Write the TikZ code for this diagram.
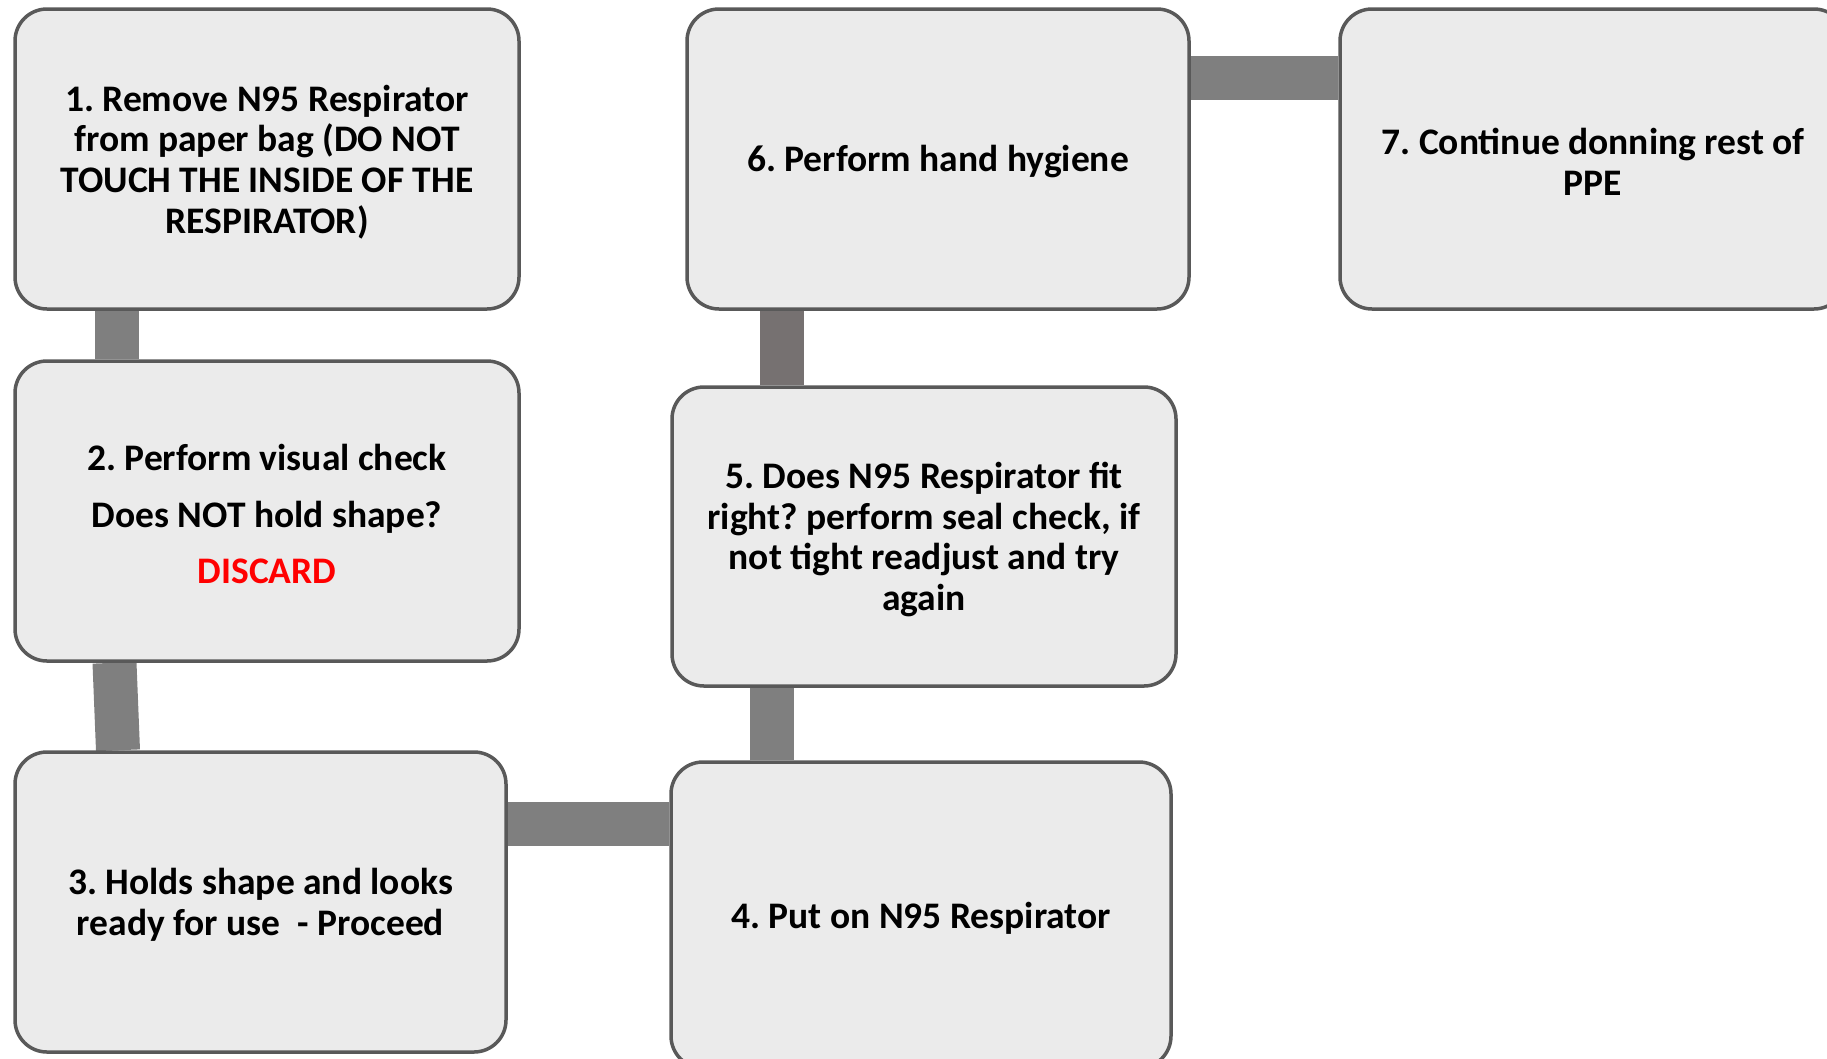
\documentclass[tikz,border=0pt]{standalone}
\usepackage{fontspec}
\setmainfont{Carlito}
\usetikzlibrary{backgrounds}
\definecolor{boxfill}{HTML}{EBEBEB}
\definecolor{boxline}{HTML}{595959}
\definecolor{connc}{HTML}{7F7F7F}
\definecolor{connd}{HTML}{767171}
\definecolor{discard}{HTML}{FF0000}
\begin{document}
\frenchspacing
\begin{tikzpicture}[x=1pt,y=-1pt,
  stepbox/.style={draw=boxline, line width=3.5pt, fill=boxfill, rounded corners=32pt,
    minimum height=300pt, inner sep=0pt},
  boxtext/.style={align=center, inner sep=0pt, yshift=-3pt,
    font=\bfseries\fontsize{37.5}{40.8}\selectfont},
  conn/.style={draw=connc, line width=44pt},
  conndark/.style={draw=connd, line width=44pt}]
\useasboundingbox (0,0) rectangle (1827,1058);
\clip (0,0) rectangle (1827,1058);
\node[stepbox, minimum width=504pt,
  label={[boxtext]center:{1. Remove N95 Respirator\\from paper bag (DO NOT\\TOUCH THE INSIDE OF THE\\RESPIRATOR)}}]
  (b1) at (267,159) {};
\node[stepbox, minimum width=504pt,
  label={[boxtext]center:{2. Perform visual check\\[15.5pt]Does NOT hold shape?\\[15.5pt]\textcolor{discard}{DISCARD}}}]
  (b2) at (267,511) {};
\node[stepbox, minimum width=491pt,
  label={[boxtext]center:{3. Holds shape and looks\\ready for use\ \ - Proceed}}]
  (b3) at (260.5,902) {};
\node[stepbox, minimum width=500pt, minimum height=306pt,
  label={[boxtext]center:{4. Put on N95 Respirator}}]
  (b4) at (921,915) {};
\node[stepbox, minimum width=504pt, minimum height=299pt,
  label={[boxtext]center:{5. Does N95 Respirator fit\\right? perform seal check, if\\not tight readjust and try\\again}}]
  (b5) at (924,536.5) {};
\node[stepbox, minimum width=502pt,
  label={[boxtext]center:{6. Perform hand hygiene}}]
  (b6) at (938,159) {};
\node[stepbox, minimum width=506pt,
  label={[boxtext]center:{7. Continue donning rest of\\PPE}}]
  (b7) at (1593,159) {};
\begin{scope}[on background layer]
\draw[conn] ([xshift=-150.5pt]b1.south) -- ([xshift=-150.5pt]b2.north);
\draw[conn] ([xshift=-152.5pt]b2.south) -- ([xshift=-142.5pt]b3.north);
\draw[conn] ([yshift=78pt]b3.east) coordinate (c34) -- (c34 -| b4.west);
\draw[conn] ([xshift=-149pt]b4.north) coordinate (c45) -- (c45 |- b5.south);
\draw[conndark] ([xshift=-142pt]b5.north) coordinate (c56) -- (c56 |- b6.south);
\draw[conn] ([yshift=81.5pt]b6.east) coordinate (c67) -- (c67 -| b7.west);
\end{scope}
\end{tikzpicture}
\end{document}
